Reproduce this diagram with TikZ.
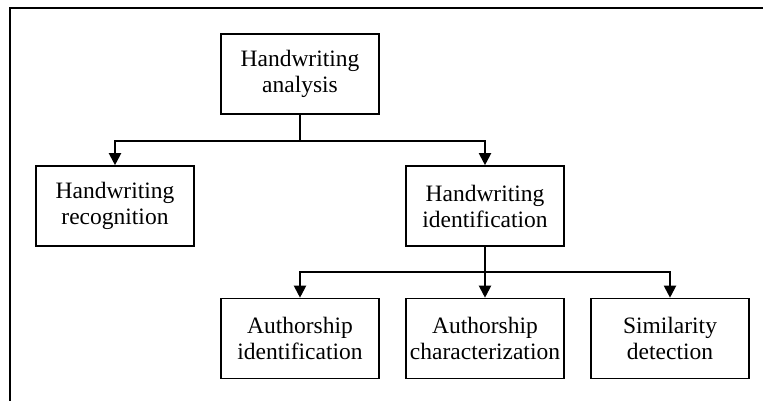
\documentclass[tikz,border=0pt]{standalone}
\usepackage{fontspec}
\setmainfont{Liberation Serif}
\usetikzlibrary{arrows.meta}
\begin{document}
\begin{tikzpicture}[x=1pt,y=-1pt,
  box/.style={draw, line width=1.6pt, minimum width=158pt, minimum height=80pt,
    inner sep=0pt, align=center, font=\fontsize{23.5}{26}\selectfont},
  link/.style={line width=2pt},
  arrowlink/.style={link, -{Triangle[width=12pt,length=12pt]}}]
  \useasboundingbox (0,0) rectangle (763,401);
  % open frame: top and left edges only
  \draw[line width=2.4pt] (763,8) -- (10,8) -- (10,401);

  \node[box] (ana) at (300,74) {Handwriting\\analysis};
  \node[box] (rec) at (115,206) {Handwriting\\recognition};
  \node[box] (ide) at (485,206) {Handwriting\\identification};
  \node[box] (aid) at (300,338.5) {Authorship\\identification};
  \node[box] (ach) at (485,338.5) {Authorship\\characterization};
  \node[box] (sim) at (670,338.5) {Similarity\\detection};

  \coordinate (j1) at (300,141);
  \coordinate (j2) at (485,272);

  \draw[link] (ana.south) -- (j1);
  \draw[arrowlink] (j1) -| (rec.north);
  \draw[arrowlink] (j1) -| (ide.north);

  \draw[link] (ide.south) -- (j2);
  \draw[arrowlink] (j2) -| (aid.north);
  \draw[arrowlink] (j2) -- (ach.north);
  \draw[arrowlink] (j2) -| (sim.north);
\end{tikzpicture}
\end{document}
